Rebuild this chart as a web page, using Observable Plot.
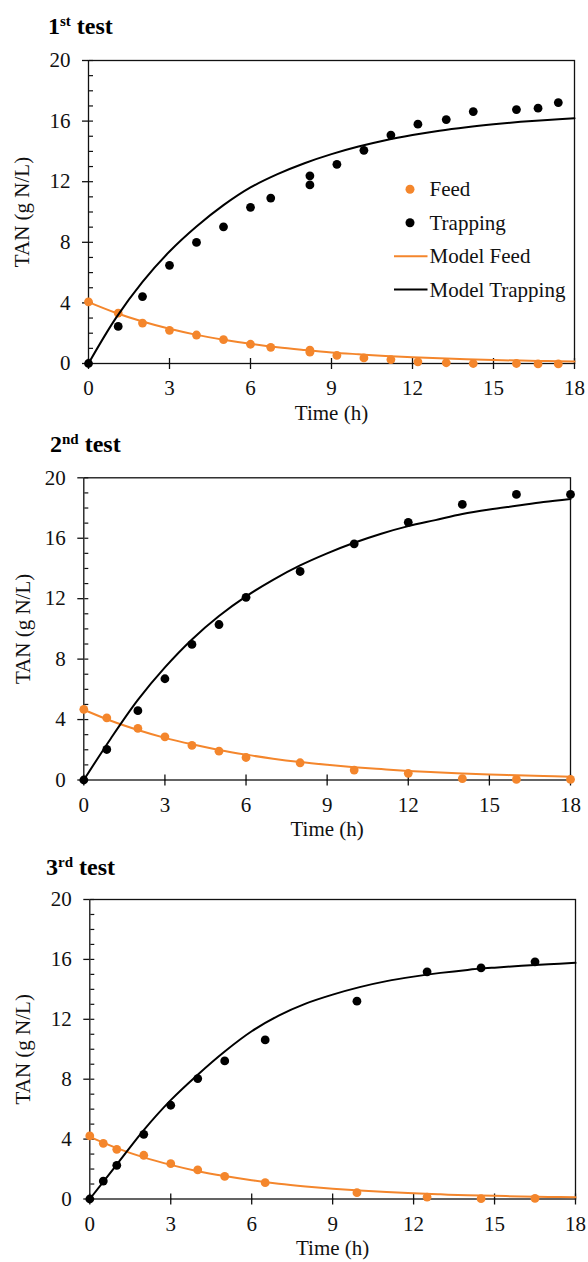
<!DOCTYPE html>
<html>
<head>
<meta charset="utf-8">
<script src="https://cdn.jsdelivr.net/npm/d3@7"></script>
<script src="https://cdn.jsdelivr.net/npm/@observablehq/plot@0.6"></script>
<style>
  html, body { margin: 0; padding: 0; background: #fff; }
  #root { position: relative; width: 588px; height: 1262px; overflow: hidden;
          font-family: "Liberation Serif", "Times New Roman", serif; color: #111; }
  .panel { position: absolute; left: 0; }
  .title { position: absolute; font-weight: bold; font-size: 24px; line-height: 24px; white-space: nowrap; color: #000; }
  .title sup { font-size: 15px; vertical-align: baseline; position: relative; top: -8px; }
  #legend { position: absolute; left: 0; top: 0; pointer-events: none; }
  svg text { font-family: "Liberation Serif", "Times New Roman", serif; }
</style>
</head>
<body>
<div id="root"></div>
<script>
// ---------- data ----------
const xTicks = [0, 3, 6, 9, 12, 15, 18];
const yTicks = [0, 4, 8, 12, 16, 20];
const yMinorTicks = d3.range(0, 21);

const modelT = [0, 1, 2, 3, 4, 5, 6, 7, 8, 9, 10, 11, 12, 13, 14, 15, 16, 17, 18];

// 1st test
const t1 = [0, 1.1, 2, 3, 4, 5, 6, 6.75, 8.2, 8.2, 9.2, 10.2, 11.2, 12.2, 13.25, 14.25, 15.85, 16.65, 17.4];
const feed1 = [4.07, 3.33, 2.67, 2.19, 1.88, 1.58, 1.27, 1.07, 0.88, 0.75, 0.53, 0.37, 0.26, 0.11, 0.05, 0.0, 0.0, -0.03, -0.03];
const trap1 = [0, 2.45, 4.42, 6.48, 7.99, 9.02, 10.31, 10.92, 12.39, 11.79, 13.15, 14.07, 15.08, 15.8, 16.1, 16.63, 16.76, 16.85, 17.22];
const modelFeed1 = [4.05, 3.35, 2.77, 2.29, 1.89, 1.57, 1.3, 1.07, 0.89, 0.73, 0.61, 0.5, 0.41, 0.34, 0.28, 0.23, 0.19, 0.16, 0.13];
const modelTrap1 = [0, 2.96, 5.39, 7.39, 9.04, 10.45, 11.62, 12.5, 13.22, 13.82, 14.32, 14.74, 15.08, 15.37, 15.6, 15.79, 15.95, 16.08, 16.19];

// 2nd test
const t2 = [0, 0.85, 2, 3, 4, 5, 6, 8, 10, 12, 14, 16, 18];
const feed2 = [4.68, 4.11, 3.41, 2.86, 2.29, 1.91, 1.49, 1.14, 0.66, 0.44, 0.09, 0.04, 0.04];
const trap2 = [0, 2.02, 4.59, 6.7, 8.97, 10.29, 12.09, 13.8, 15.63, 17.05, 18.24, 18.9, 18.9];
const modelFeed2 = [4.65, 3.92, 3.31, 2.79, 2.36, 1.99, 1.68, 1.41, 1.19, 1.01, 0.85, 0.72, 0.6, 0.51, 0.43, 0.36, 0.31, 0.26, 0.22];
const modelTrap2 = [0, 2.75, 5.3, 7.45, 9.3, 10.85, 12.15, 13.25, 14.2, 15.0, 15.7, 16.3, 16.8, 17.2, 17.6, 17.9, 18.15, 18.4, 18.6];

// 3rd test
const t3 = [0, 0.5, 1, 2, 3, 4, 5, 6.5, 9.9, 12.5, 14.5, 16.5];
const feed3 = [4.21, 3.72, 3.32, 2.92, 2.36, 1.94, 1.51, 1.09, 0.42, 0.13, 0.02, 0.04];
const trap3 = [0, 1.2, 2.25, 4.32, 6.26, 8.04, 9.22, 10.62, 13.21, 15.17, 15.43, 15.84];
const modelFeed3 = [4.15, 3.4, 2.78, 2.28, 1.86, 1.53, 1.25, 1.02, 0.84, 0.69, 0.56, 0.46, 0.38, 0.31, 0.25, 0.21, 0.17, 0.14, 0.11];
const modelTrap3 = [0, 2.3, 4.6, 6.6, 8.3, 9.85, 11.2, 12.25, 13.05, 13.65, 14.15, 14.55, 14.85, 15.1, 15.3, 15.45, 15.58, 15.68, 15.77];

const seriesNames = ["Feed", "Trapping", "Model Feed", "Model Trapping"];
const titles = [["1", "st", " test"], ["2", "nd", " test"], ["3", "rd", " test"]];
const xLabel = "Time (h)";
const yLabel = "TAN (g N/L)";

// ---------- style ----------
const ORANGE = "#F4862C";
const INK = "#111";
const FONT = '"Liberation Serif", "Times New Roman", serif';

// ---------- layout ----------
const panels = [
  {top: 40,  height: 386, mt: 20,   ml: 88,   mr: 14, mb: 63, lblY: 74, t: t1, feed: feed1, trap: trap1, mf: modelFeed1, mtp: modelTrap1,
   titleLeft: 48, titleTop: 14},
  {top: 457, height: 385.5, mt: 20.3, ml: 83.3, mr: 18, mb: 63, lblY: 69, t: t2, feed: feed2, trap: trap2, mf: modelFeed2, mtp: modelTrap2,
   titleLeft: 50, titleTop: 431.5},
  {top: 879, height: 382.5, mt: 20,   ml: 89.3, mr: 13, mb: 63, lblY: 75, t: t3, feed: feed3, trap: trap3, mf: modelFeed3, mtp: modelTrap3,
   titleLeft: 46, titleTop: 854.5}
];

const root = document.getElementById("root");

panels.forEach((p, i) => {
  const obs = p.t.map((t, j) => ({t, feed: p.feed[j], trap: p.trap[j]}));
  const model = modelT.map((t, j) => ({t, feed: p.mf[j], trap: p.mtp[j]}));

  const chart = Plot.plot({
    width: 588,
    height: p.height,
    marginTop: p.mt,
    marginLeft: p.ml,
    marginRight: p.mr,
    marginBottom: p.mb,
    x: {domain: [0, 18]},
    y: {domain: [0, 20]},
    style: {fontFamily: FONT, fontSize: "21px", color: INK, background: "none", overflow: "visible"},
    marks: [
      Plot.axisX(xTicks, {tickSize: 6, tickPadding: 11, fontSize: 21, fontFamily: FONT, strokeWidth: 1.3,
        label: xLabel, labelAnchor: "center", labelOffset: 56, labelArrow: "none"}),
      Plot.axisX(xTicks, {anchor: "top", frameAnchor: "bottom", tickSize: 6, strokeWidth: 1.3, text: null, label: null}),
      Plot.axisY(yTicks, {tickSize: 6, tickPadding: 12, fontSize: 21, fontFamily: FONT, strokeWidth: 1.3,
        label: yLabel, labelAnchor: "center", labelOffset: p.lblY, labelArrow: "none"}),
      Plot.axisY(yMinorTicks, {anchor: "right", frameAnchor: "left", tickSize: 4, strokeWidth: 1.2, text: null, label: null}),
      Plot.frame({stroke: INK, strokeWidth: 1.3}),
      Plot.dot(obs, {x: "t", y: "feed", r: 4.4, fill: ORANGE}),
      Plot.dot(obs, {x: "t", y: "trap", r: 4.4, fill: "#000"}),
      Plot.line(model, {x: "t", y: "feed", stroke: ORANGE, strokeWidth: 2, curve: "catmull-rom"}),
      Plot.line(model, {x: "t", y: "trap", stroke: "#000", strokeWidth: 2, curve: "catmull-rom"})
    ]
  });
  const wrap = document.createElement("div");
  wrap.className = "panel";
  wrap.style.top = p.top + "px";
  wrap.appendChild(chart);
  root.appendChild(wrap);
});

// titles
panels.forEach((p, i) => {
  const d = document.createElement("div");
  d.className = "title";
  d.style.left = p.titleLeft + "px";
  d.style.top = p.titleTop + "px";
  const [a, sup, b] = titles[i];
  d.appendChild(document.createTextNode(a));
  const s = document.createElement("sup");
  s.textContent = sup;
  d.appendChild(s);
  d.appendChild(document.createTextNode(b));
  root.appendChild(d);
});

// legend (inside first panel)
const lg = d3.select(root).append("svg")
  .attr("id", "legend").attr("width", 588).attr("height", 430)
  .style("font-family", FONT).style("font-size", "21px");
const rowY = [189.3, 222.7, 256.3, 289.5];
const legendItems = [
  {name: seriesNames[0], kind: "dot", color: ORANGE},
  {name: seriesNames[1], kind: "dot", color: "#000"},
  {name: seriesNames[2], kind: "line", color: ORANGE},
  {name: seriesNames[3], kind: "line", color: "#000"}
];
legendItems.forEach((it, k) => {
  const y = rowY[k];
  if (it.kind === "dot") {
    lg.append("circle").attr("cx", 410).attr("cy", y).attr("r", 4.5).attr("fill", it.color);
  } else {
    lg.append("line").attr("x1", 394).attr("x2", 427.5).attr("y1", y).attr("y2", y)
      .attr("stroke", it.color).attr("stroke-width", 2);
  }
  lg.append("text").attr("x", 429.5).attr("y", y + 7).attr("fill", "#111").text(it.name);
});
</script>
</body>
</html>
